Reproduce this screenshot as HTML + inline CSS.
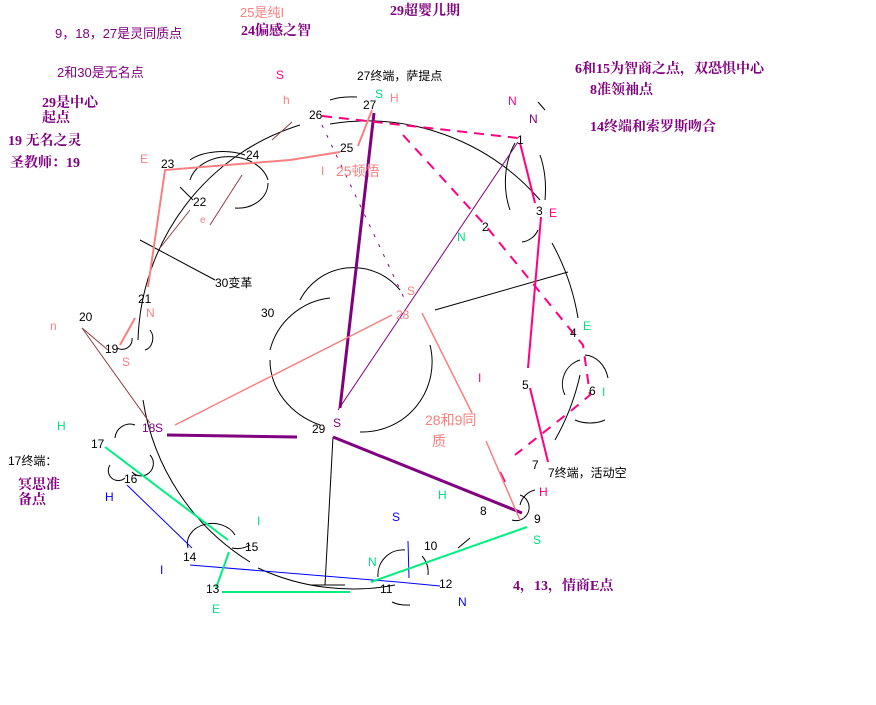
<!DOCTYPE html>
<html><head><meta charset="utf-8"><style>
html,body{margin:0;padding:0;background:#fff;}
svg{display:block;font-family:"Liberation Sans","Noto Sans CJK SC",sans-serif;}
.n{font-size:12px;fill:#000;}
.b{font-weight:bold;fill:#800080;font-size:14px;font-family:"Liberation Serif","Noto Serif CJK SC",serif;}
.sa{fill:#f88080;}.pk{fill:#ff0080;}.gr{fill:#00e080;}.bl{fill:#0000ff;}.pu{fill:#800080;}
</style></head><body>
<svg width="876" height="705" viewBox="0 0 876 705" xmlns="http://www.w3.org/2000/svg">
<rect width="876" height="705" fill="#fff"/>
<g fill="none" stroke="#000" stroke-width="1">
<path d="M138,340 A228,232 0 0 1 300,125"/>
<path d="M330,124 A230,232 0 0 1 540,200"/>
<path d="M552,243 A230,232 0 0 1 578,318"/>
<path d="M580,375 A230,232 0 0 1 555,440"/>
<path d="M143,400 A228,232 0 0 0 250,562"/>
<path d="M258,568 A228,232 0 0 0 395,585"/>
<path d="M325,585 L333,437"/>
<path d="M140,240 L215,280"/>
<path d="M435,310 L568,272"/>
<path d="M310,585 L345,585"/>
<path d="M410,605 A20,8 0 0 1 392,602"/>
<path d="M378,577 A25,25 0 0 1 405,550"/><path d="M422,556 A25,25 0 0 1 428,575"/>
<path d="M458,548 L470,538"/>
<path d="M330,298 A70,70 0 0 0 270,350"/><path d="M300,300 A60,60 0 0 1 400,290"/>
<path d="M270,360 A80,70 0 0 0 320,425"/><path d="M360,432 A70,70 0 0 0 430,345"/>
<path d="M510,210 A40,60 0 0 1 515,143"/><path d="M540,155 A30,60 0 0 1 545,200"/>
<path d="M522,242 A20,20 0 0 0 538,230"/>
<path d="M585,355 A25,30 0 0 1 608,378"/><path d="M565,395 A25,25 0 0 1 580,360"/>
<path d="M575,420 A25,15 0 0 0 605,420"/>
<path d="M520,505 A20,20 0 0 1 535,490"/><path d="M512,520 A10,10 0 0 0 520,495"/>
<path d="M115,438 A15,15 0 0 1 135,425"/><path d="M110,465 A10,10 0 0 0 125,478"/>
<path d="M132,472 A10,10 0 0 0 150,455"/>
<path d="M190,160 A40,20 0 0 1 245,155"/><path d="M190,180 A40,30 0 0 1 268,180"/>
<path d="M235,208 A30,25 0 0 0 268,183"/>
<path d="M180,187 L193,200"/><path d="M330,100 A30,10 0 0 1 357,97"/>
<path d="M250,545 A20,15 0 0 1 232,548"/><path d="M188,548 A25,20 0 0 1 235,535"/>
<path d="M117,348 A10,10 0 0 0 132,338"/><path d="M145,350 A10,12 0 0 0 150,330"/>
<path d="M538,102 L545,110"/>
</g>
<g stroke="#8b4040" stroke-width="1" fill="none">
<path d="M82,328 L150,423"/><path d="M82,328 L108,350"/>
<path d="M210,225 L242,175"/><path d="M272,140 L292,122"/><path d="M160,248 L190,210"/>
</g>
<g stroke="#800080" fill="none">
<path d="M167,435 L297,437" stroke-width="3"/>
<path d="M333,437 L522,513" stroke-width="3"/>
<path d="M374,113 L340,408" stroke-width="3"/>
<path d="M518,142 L338,410" stroke-width="1"/>
</g>
<g stroke="#ff0080" fill="none" stroke-width="2">
<path d="M520,143 L535,203"/><path d="M541,217 L528,368"/><path d="M530,388 L548,462"/>
<path d="M322,116 L518,138" stroke-dasharray="10,7"/>
<path d="M403,135 L485,225 L583,345 L590,395 L572,410 L515,455" stroke-dasharray="10,8"/>
<path d="M500,472 L505,482"/>
</g>
<g stroke="#800080" stroke-width="1" fill="none" stroke-dasharray="3,8">
<path d="M322,125 L405,300"/>
</g>
<g stroke="#f88080" fill="none" stroke-width="2">
<path d="M148,287 L165,170 L290,160 L340,152"/>
<path d="M358,146 L372,110"/>
<path d="M135,318 L120,345"/>
</g>
<g stroke="#f88080" fill="none" stroke-width="1.5">
<path d="M392,315 L175,425"/><path d="M422,313 L472,413"/><path d="M486,441 L520,520"/>
</g>
<g stroke="#0000ff" fill="none" stroke-width="1">
<path d="M127,485 L192,548"/><path d="M190,565 L398,582 L440,586"/><path d="M408,541 L409,578"/>
</g>
<g stroke="#00f080" fill="none" stroke-width="2">
<path d="M105,447 L228,540"/><path d="M229,552 L216,588"/><path d="M222,592 L350,592"/><path d="M371,582 L527,527"/>
</g>
<g class="n">
<text x="517" y="144">1</text><text x="482" y="231">2</text><text x="536" y="215">3</text>
<text x="570" y="337">4</text><text x="522" y="389">5</text><text x="589" y="395">6</text>
<text x="532" y="469">7</text><text x="480" y="515">8</text><text x="534" y="523">9</text>
<text x="424" y="550">10</text><text x="380" y="593">11</text><text x="439" y="588">12</text>
<text x="206" y="593">13</text><text x="183" y="561">14</text><text x="245" y="551">15</text>
<text x="124" y="483">16</text><text x="91" y="448">17</text><text x="105" y="353">19</text>
<text x="79" y="321">20</text><text x="138" y="303">21</text><text x="193" y="206">22</text>
<text x="161" y="168">23</text><text x="246" y="159">24</text><text x="340" y="152">25</text>
<text x="309" y="119">26</text><text x="363" y="109">27</text><text x="312" y="433">29</text>
<text x="261" y="317">30</text>
<text x="215" y="287">30变革</text>
<text x="357" y="80">27终端，萨提点</text>
<text x="548" y="477">7终端，活动空</text>
<text x="8" y="465">17终端：</text>
</g>
<g font-size="12">
<text x="142" y="432" class="pu">18</text><text x="155" y="432" class="pu">S</text>
<text x="396" y="319" class="sa">28</text>
<text x="276" y="79" class="pk">S</text><text x="283" y="104" class="sa">h</text>
<text x="375" y="98" class="gr">S</text><text x="390" y="102" class="sa">H</text>
<text x="508" y="105" class="pk">N</text><text x="529" y="123" class="pu">N</text>
<text x="140" y="163" class="sa">E</text><text x="321" y="175" class="sa">I</text>
<text x="336" y="176" class="sa" font-size="14">25顿悟</text>
<text x="200" y="223" class="sa" font-size="10">e</text>
<text x="457" y="241" class="gr">N</text><text x="549" y="217" class="pk">E</text>
<text x="583" y="330" class="gr">E</text><text x="602" y="396" class="gr">I</text>
<text x="407" y="295" class="sa">S</text><text x="478" y="382" class="pk">I</text>
<text x="425" y="425" class="sa" font-size="14">28和9同</text>
<text x="432" y="446" class="sa" font-size="14">质</text>
<text x="50" y="330" class="sa">n</text><text x="146" y="317" class="sa">N</text>
<text x="122" y="366" class="sa">S</text><text x="57" y="430" class="gr">H</text>
<text x="333" y="427" class="pu">S</text><text x="105" y="501" class="bl">H</text>
<text x="438" y="499" class="gr">H</text><text x="539" y="496" class="pk">H</text>
<text x="392" y="521" class="bl">S</text><text x="533" y="544" class="gr">S</text>
<text x="257" y="525" class="gr">I</text><text x="160" y="574" class="bl">I</text>
<text x="368" y="566" class="gr">N</text><text x="458" y="606" class="bl">N</text>
<text x="212" y="613" class="gr">E</text>
<text x="240" y="17" class="sa" font-size="13">25是纯I</text>
<text x="55" y="38" class="pu" font-size="13">9，18，27是灵同质点</text>
<text x="57" y="77" class="pu" font-size="13">2和30是无名点</text>
</g>
<g class="b">
<text x="390" y="15">29超婴儿期</text>
<text x="241" y="35">24偏感之智</text>
<text x="42" y="107">29是中心</text><text x="42" y="122">起点</text>
<text x="8" y="145">19 无名之灵</text><text x="10" y="167">圣教师：19</text>
<text x="575" y="73">6和15为智商之点，双恐惧中心</text>
<text x="590" y="94">8准领袖点</text>
<text x="590" y="131">14终端和索罗斯吻合</text>
<text x="513" y="590">4，13，情商E点</text>
<text x="18" y="489">冥思准</text><text x="18" y="504">备点</text>
</g>
</svg>
</body></html>
